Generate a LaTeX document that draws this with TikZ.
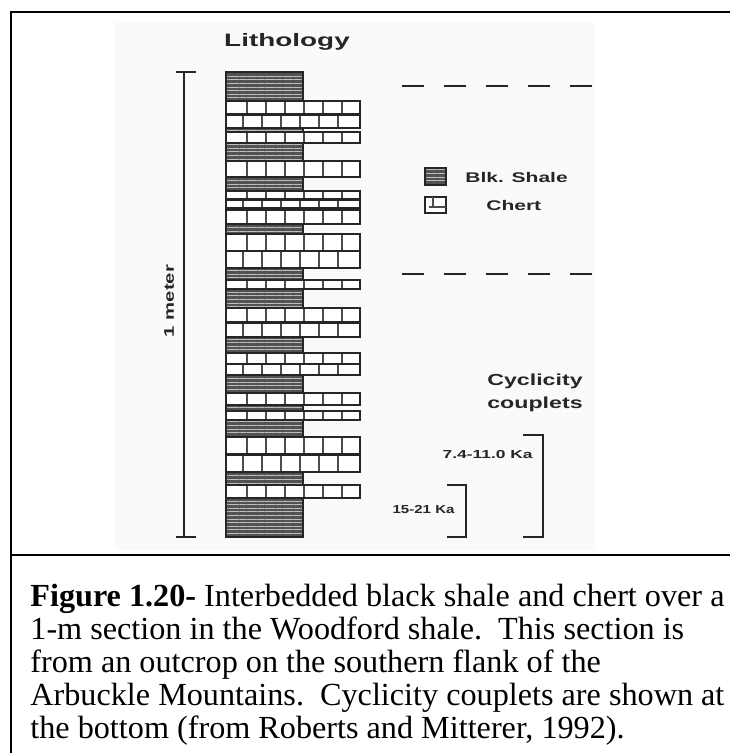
\documentclass[tikz,border=0pt]{standalone}
\usepackage{fontspec}
\setmainfont{Liberation Serif}
\setsansfont{Liberation Sans}
\usetikzlibrary{patterns.meta}
\newcommand\wide[2]{\scalebox{#1}[1]{#2}}
\newcommand\sz[1]{\sffamily\bfseries\fontsize{#1}{#1}\selectfont}

\begin{document}
\begin{tikzpicture}[x=0.5pt,y=-0.5pt,
  shale/.style={fill=black!68},
  lines/.style={pattern={Lines[angle=0,distance=1.8pt,line width=0.45pt]}, pattern color=black!25},
  edge/.style={draw=black!85, line width=1.1pt},
  brick/.style={draw=black!70, line width=0.7pt},
  lab/.style={inner sep=0pt, text=black!85}]
\useasboundingbox (0,0) rectangle (730,753);
% scanned figure
\fill[black!2] (115,22) rectangle (595,550);
% table frame
\draw[line width=1.4pt] (10,12) -- (730,12);
\draw[line width=1pt] (11,11.3) -- (11,753);
\draw[line width=1pt] (10,555) -- (730,555);

% lithology column: top/bottom/rows (0 rows = shale)
\foreach \ytop/\ybot/\nrow in {72/101/0, 101/128/2, 128/132/0, 132/143/1,
    143/161/0, 161/177/1, 177/191/0, 191/208/2, 208/210/0, 210/224/1,
    224/234/0, 234/268/2, 268/280/0, 280/289/1, 289/308/0, 308/337/2,
    337/353/0, 353/375/2, 375/393/0, 393/405/1, 405/411/0, 411/420/1,
    420/437/0, 437/472/2, 472/485/0, 485/498/1, 498/537/0}{
  \ifnum\nrow=0
    \fill[shale] (226,\ytop) rectangle (303,\ybot);
    \fill[lines] (226,\ytop) rectangle (303,\ybot);
    \draw[edge] (226,\ytop) rectangle (303,\ybot);
  \else
    \pgfmathsetmacro\rh{(\ybot-\ytop)/\nrow}
    \fill[white] (226,\ytop) rectangle (360,\ybot);
    \foreach \r in {1,...,\nrow}{
      \pgfmathsetmacro\ya{\ytop+(\r-1)*\rh}
      \pgfmathsetmacro\sh{mod(\r,2)*4}
      \foreach \k in {1,...,6}
        \draw[brick] ({224+19*\k+\sh},\ya) -- ++(0,\rh);
      \draw[edge] (226,\ya) -- (360,\ya);
    }
    \draw[edge] (226,\ytop) rectangle (360,\ybot);
  \fi
}

\node[lab, font=\sz{9}] (lith) at (287,42) {\wide{1.55}{Lithology}};

% scale bar
\draw[line width=1.1pt, black!85] (176,72) -- (196,72) (184,72) -- (184,537) (176,537) -- (196,537);
\node[lab, rotate=90, font=\sz{7}] (meter) at (169,301) {\wide{1.45}{1 meter}};

% dashed markers
\draw[line width=1pt, black!85, dash pattern=on 11pt off 10pt] (402,86) -- (592,86);
\draw[line width=1pt, black!85, dash pattern=on 11pt off 10pt] (402,274) -- (592,274);

% legend
\fill[shale] (425,168) rectangle (446,185);
\fill[lines] (425,168) rectangle (446,185);
\draw[edge, line width=1.2pt] (425,168) rectangle (446,185);
\node[lab, anchor=west, font=\sz{7}] (shaletxt) at (465,177) {\wide{1.5}{Blk. Shale}};
\draw[edge, line width=1.3pt, fill=white] (425,197) rectangle (446,213);
\draw[brick] (429,207) -- (446,207) (433,197) -- (433,207);
\node[lab, anchor=west, font=\sz{7}] (cherttxt) at (486,205) {\wide{1.5}{Chert}};

\node[lab, align=center, font=\sffamily\bfseries\fontsize{8}{11.5}\selectfont] (cyc) at (535,393)
  {\wide{1.45}{Cyclicity}\\\wide{1.45}{couplets}};

% couplet brackets
\draw[line width=1pt, black!85] (523,435) -- (543,435) -- (543,537) -- (523,537);
\draw[line width=1pt, black!85] (447,485) -- (466,485) -- (466,537) -- (447,537);
\node[lab, anchor=east, font=\sz{5.8}] (ka1) at (533,455) {\wide{1.5}{7.4-11.0 Ka}};
\node[lab, anchor=east, font=\sz{5.8}] (ka2) at (455,510) {\wide{1.3}{15-21 Ka}};

% caption
\node[anchor=north west, inner sep=0pt, align=left, font=\fontsize{16.1}{16.5}\selectfont] (cap) at (30,584)
  {\textbf{Figure 1.20-} Interbedded black shale and chert over a\\
   1-m section in the Woodford shale.\ \ This section is\\
   from an outcrop on the southern flank of the\\
   Arbuckle Mountains.\ \ Cyclicity couplets are shown at\\
   the bottom (from Roberts and Mitterer, 1992).};
\end{tikzpicture}
\end{document}
